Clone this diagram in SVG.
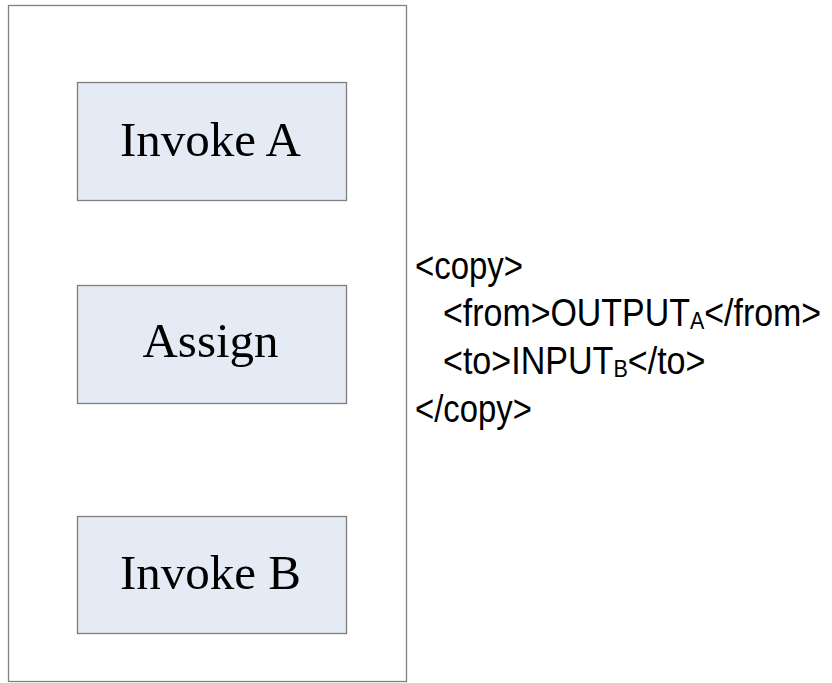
<svg xmlns="http://www.w3.org/2000/svg" width="832" height="683" viewBox="0 0 832 683">
<style>
.frame{fill:#fff;stroke:#808080;stroke-width:1.3}
.box{fill:#e4ebf5;stroke:#7f7f7f;stroke-width:1.3}
.lbl{font-family:"Liberation Sans",Arial,sans-serif;font-family:"Liberation Serif","Times New Roman",serif;font-size:49px;fill:#000;text-anchor:middle}
.code{font-family:"Liberation Sans",Arial,sans-serif;font-size:38px;fill:#000}
.sub{font-size:24px}
</style>
<rect width="832" height="683" fill="#fff"/>
<g id="container"><rect class="frame" x="8.5" y="5.5" width="398" height="676"/></g>
<g id="invokeA"><rect class="box" x="77.5" y="82.5" width="269" height="118"/><text class="lbl" x="210.5" y="156">Invoke A</text></g>
<g id="assign"><rect class="box" x="77.5" y="285.5" width="269" height="118"/><text class="lbl" x="210.5" y="357">Assign</text></g>
<g id="invokeB"><rect class="box" x="77.5" y="516.5" width="269" height="117"/><text class="lbl" x="210.5" y="589">Invoke B</text></g>
<g id="copycode" class="code">
<text transform="translate(415,279) scale(0.867,1)">&lt;copy&gt;</text>
<text transform="translate(443,326) scale(0.893,1)">&lt;from&gt;OUTPUT<tspan class="sub" dy="3">A</tspan><tspan dy="-3">&lt;/from&gt;</tspan></text>
<text transform="translate(443,374) scale(0.897,1)">&lt;to&gt;INPUT<tspan class="sub" dy="3">B</tspan><tspan dy="-3">&lt;/to&gt;</tspan></text>
<text transform="translate(415,422) scale(0.865,1)">&lt;/copy&gt;</text>
</g>
<g id="connectors"/>
</svg>
